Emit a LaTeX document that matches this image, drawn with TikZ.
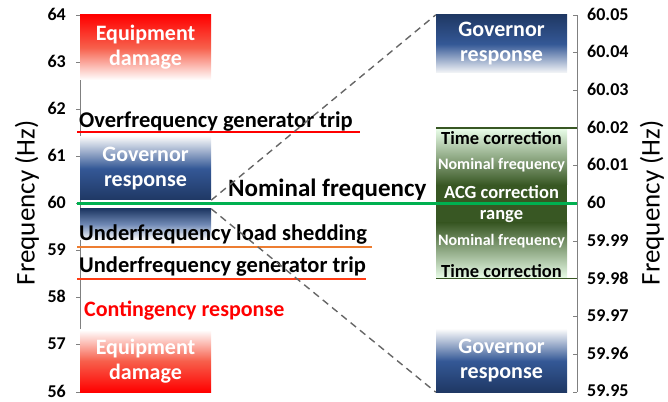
\documentclass[tikz,border=0pt]{standalone}
\usepackage{fontspec}
\setmainfont{Carlito}
\usepackage{xcolor}
\usetikzlibrary{positioning}

\definecolor{damagered}{RGB}{255,0,0}
\definecolor{damagemid}{RGB}{247,95,75}
\definecolor{govblue}{RGB}{31,56,100}
\definecolor{govmid}{RGB}{52,88,150}
\definecolor{acggreen}{RGB}{56,87,35}
\definecolor{nomgreen}{RGB}{0,176,80}
\definecolor{tripred}{RGB}{255,60,20}
\definecolor{shedorange}{RGB}{237,125,49}
\definecolor{axisgray}{RGB}{128,128,128}

\tikzset{
    ticklabel/.style={font=\fontsize{18}{18}\selectfont\bfseries, inner sep=0pt},
    axislabel/.style={font=\fontsize{27}{27}\selectfont, rotate=90},
    bar/.style={minimum width=131pt, inner sep=0pt, align=center, text=white,
        font=\fontsize{22}{25}\selectfont\bfseries},
    limitlabel/.style={font=\fontsize{22.5}{22.5}\selectfont\bfseries, inner sep=0pt, anchor=base west},
    bandlabel/.style={font=\fontsize{18.5}{18.5}\selectfont\bfseries, inner sep=0pt},
    smalllabel/.style={font=\fontsize{16}{16}\selectfont\bfseries, inner sep=0pt, text=white},
    zoomline/.style={dashed, dash pattern=on 7pt off 5pt, draw=black!60, line width=1.4pt}
}

\begin{document}
\begin{tikzpicture}[x=1pt, y=1pt]
    \useasboundingbox (0,0) rectangle (668,401);

    % left axis, 56 to 64 Hz
    \draw[axisgray, line width=0.8pt] (80,9) -- (80,386);
    \foreach \i in {0,...,8} {
        \draw[axisgray, line width=0.8pt] (76,9+\i*47.125) -- (80,9+\i*47.125);
        \node[ticklabel, anchor=east] at (66,10+\i*47.125) {\the\numexpr56+\i\relax};
    }
    \node[axislabel] (ylabL) at (27,198) {Frequency (Hz)};

    % right axis, 59.95 to 60.05 Hz
    \draw[axisgray, line width=0.8pt] (577,9) -- (577,386);
    \foreach \f [count=\i from 0] in {59.95,59.96,59.97,59.98,59.99,60,60.01,60.02,60.03,60.04,60.05} {
        \draw[axisgray, line width=0.8pt] (573,9+\i*37.7) -- (577,9+\i*37.7);
        \node[ticklabel, anchor=west] at (587,10+\i*37.7) {\f};
    }
    \node[axislabel] (ylabR) at (652,198) {Frequency (Hz)};

    % left bars
    \node[bar, minimum height=65pt, top color=damagered, bottom color=white, middle color=damagemid] (damageTop) at (145.5,353.5) {Equipment\\damage};
    \node[bar, minimum height=63pt, top color=govblue!4, bottom color=govblue, middle color=govmid] (govLeft) at (145.5,232.5) {Governor\\response};
    \node[bar, minimum height=31pt, top color=govblue, bottom color=white, middle color=govmid!70] (govLow) at (145.5,176.5) {};
    \node[bar, minimum height=62pt, top color=white, bottom color=damagered, middle color=damagemid] (damageLow) at (145.5,40) {Equipment\\damage};

    % frequency limits
    \draw[damagered, line width=1.2pt] (77,269) -- (360,269);
    \node[limitlabel] (overTrip) at (79,273) {Overfrequency generator trip};
    \draw[shedorange, line width=1.2pt] (77,154) -- (372,154);
    \node[limitlabel] (loadShed) at (79,160) {Underfrequency load shedding};
    \draw[tripred, line width=1.2pt] (77,122) -- (366,122);
    \node[limitlabel] (underTrip) at (79,128) {Underfrequency generator trip};
    \node[limitlabel, text=damagered, font=\fontsize{22}{22}\selectfont\bfseries] (contingency) at (84,84) {Contingency response};

    % right bars
    \node[bar, minimum height=58pt, top color=govblue, bottom color=govblue!4, middle color=govmid] (govTopR) at (501.5,357) {Governor\\response};
    \node[bar, minimum height=62pt, top color=govblue!4, bottom color=govblue, middle color=govmid] (govLowR) at (501.5,40) {Governor\\response};

    % ACG band
    \shade[top color=green!8, bottom color=acggreen] (436,272.9) rectangle (567,216);
    \fill[acggreen] (436,216) rectangle (567,178);
    \shade[top color=acggreen, bottom color=green!8] (436,178) rectangle (567,122.1);
    \draw[acggreen, line width=1.2pt] (436,272.9) -- (577,272.9);
    \draw[acggreen, line width=1.2pt] (436,122.1) -- (577,122.1);
    \node[bandlabel] (timeTop) at (501.5,263) {Time correction};
    \node[smalllabel] (nomTop) at (501.5,236) {Nominal frequency};
    \node[bandlabel, text=white] (acg) at (501.5,209) {ACG correction};
    \node[bandlabel, text=white] (range) at (501.5,185) {range};
    \node[smalllabel] (nomLow) at (501.5,160) {Nominal frequency};
    \node[bandlabel] (timeLow) at (501.5,130) {Time correction};

    % Nominal frequency
    \draw[nomgreen, line width=2.5pt] (77,197.5) -- (577,197.5);
    \node[limitlabel, font=\fontsize{25}{25}\selectfont\bfseries] (nominal) at (228,204) {Nominal frequency};

    % zoom lines
    \draw[zoomline] (govLeft.south east) -- (govTopR.north west);
    \draw[zoomline] (govLow.north east) -- (govLowR.south west);

\end{tikzpicture}
\end{document}
